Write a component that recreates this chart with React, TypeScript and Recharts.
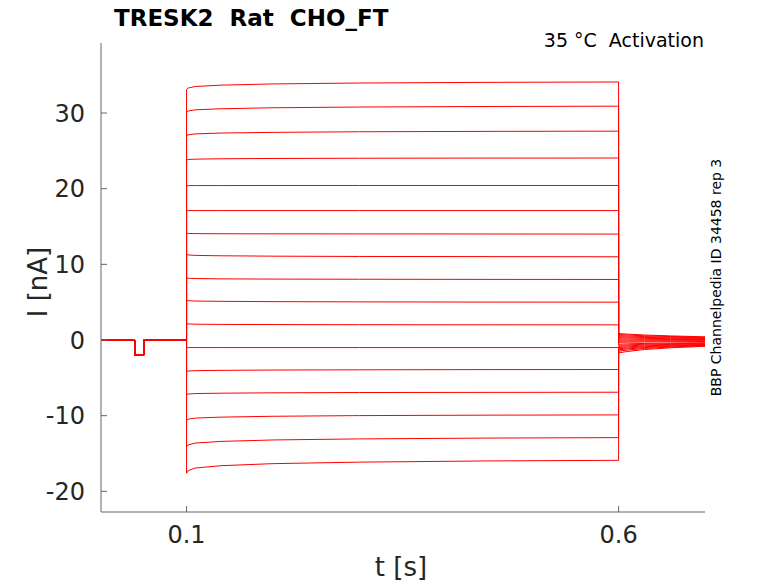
import { Line, LineChart, XAxis, YAxis } from "recharts";

// holding potential segment (incl. the short test pulse), shared by all sweeps
const holdTimes = [0.001, 0.0401, 0.0401, 0.0505, 0.0505, 0.1];
const holdCurrents = [0, 0, -2.0, -2.0, 0, 0];

// activation step: 0.1 s -> 0.6 s
const stepTimes = [0.1, 0.102, 0.11, 0.14, 0.2, 0.3, 0.45, 0.6];
const stepCurrents = [
  [33.1, 33.3, 33.5, 33.68, 33.84, 33.96, 34.05, 34.1],
  [30.1, 30.26, 30.42, 30.56, 30.69, 30.79, 30.86, 30.9],
  [27.0, 27.12, 27.24, 27.35, 27.44, 27.52, 27.57, 27.6],
  [23.8, 23.85, 23.9, 23.95, 23.99, 24.02, 24.04, 24.05],
  [20.4, 20.4, 20.41, 20.41, 20.42, 20.42, 20.42, 20.42],
  [17.1, 17.1, 17.1, 17.1, 17.1, 17.1, 17.1, 17.1],
  [14.1, 14.08, 14.06, 14.04, 14.03, 14.02, 14.01, 14.0],
  [11.3, 11.24, 11.18, 11.13, 11.08, 11.04, 11.02, 11.0],
  [8.2, 8.16, 8.12, 8.08, 8.05, 8.03, 8.01, 8.0],
  [5.25, 5.2, 5.15, 5.11, 5.07, 5.04, 5.01, 5.0],
  [2.15, 2.12, 2.09, 2.06, 2.04, 2.02, 2.01, 2.0],
  [-1.0, -1.0, -1.0, -1.0, -1.0, -1.0, -1.0, -1.0],
  [-4.15, -4.1, -4.05, -4.01, -3.97, -3.94, -3.91, -3.9],
  [-7.2, -7.14, -7.08, -7.03, -6.98, -6.94, -6.92, -6.9],
  [-10.6, -10.46, -10.32, -10.19, -10.08, -9.99, -9.93, -9.9],
  [-14.1, -13.86, -13.62, -13.4, -13.21, -13.07, -12.96, -12.9],
  [-17.6, -17.26, -16.92, -16.61, -16.34, -16.14, -15.98, -15.9],
];

// tail currents after stepping back at 0.6 s
const tailTimes = [0.6, 0.61, 0.63, 0.66, 0.7];
const tailCurrents = [
  [0.85, 0.78, 0.66, 0.54, 0.42],
  [0.72, 0.66, 0.56, 0.46, 0.35],
  [0.58, 0.53, 0.45, 0.37, 0.28],
  [0.44, 0.4, 0.34, 0.27, 0.2],
  [0.3, 0.27, 0.22, 0.18, 0.13],
  [0.15, 0.13, 0.1, 0.08, 0.05],
  [0.0, -0.01, -0.02, -0.03, -0.04],
  [-0.15, -0.15, -0.14, -0.13, -0.12],
  [-0.3, -0.29, -0.26, -0.23, -0.2],
  [-0.55, -0.51, -0.45, -0.4, -0.36],
  [-0.7, -0.65, -0.56, -0.49, -0.43],
  [-0.85, -0.78, -0.67, -0.58, -0.51],
  [-1.0, -0.92, -0.78, -0.67, -0.58],
  [-1.15, -1.05, -0.89, -0.76, -0.65],
  [-1.3, -1.18, -1.0, -0.84, -0.71],
  [-1.48, -1.33, -1.12, -0.93, -0.77],
  [-1.7, -1.52, -1.26, -1.03, -0.83],
];

const xTicks = [0.1, 0.6];
const yTicks = [-20, -10, 0, 10, 20, 30];

const traces = stepCurrents.map((step, i) => [
  ...holdTimes.map((t, j) => ({ t, I: holdCurrents[j] })),
  ...stepTimes.map((t, j) => ({ t, I: step[j] })),
  ...tailTimes.map((t, j) => ({ t, I: tailCurrents[i][j] })),
]);

const FONT = "DejaVu Sans, sans-serif";
const AXIS = "#666";
const INK = "#262626";

function YTick({ x, y, payload }: any) {
  return (
    <g>
      <line x1={x} y1={y} x2={x + 6} y2={y} stroke={AXIS} />
      <text x={x - 16} y={y} dy="0.36em" textAnchor="end" fontSize={24} fontFamily={FONT} fill={INK}>
        {String(payload.value)}
      </text>
    </g>
  );
}

function XTick({ x, y, payload }: any) {
  return (
    <g>
      <line x1={x} y1={y} x2={x} y2={y - 6} stroke={AXIS} />
      <text x={x} y={y + 31} textAnchor="middle" fontSize={24} fontFamily={FONT} fill={INK}>
        {String(payload.value)}
      </text>
    </g>
  );
}

export default function App() {
  return (
    <div style={{ position: "absolute", left: 0, top: 0, width: 778, height: 583, background: "#fff" }}>
      <LineChart width={778} height={583} margin={{ top: 43, right: 73, bottom: 0, left: 0 }}>
        <XAxis
          type="number"
          dataKey="t"
          domain={[0.001, 0.7]}
          allowDataOverflow
          ticks={xTicks}
          height={71}
          tickSize={0}
          tickMargin={0}
          tickLine={false}
          axisLine={{ stroke: AXIS }}
          tick={<XTick />}
        />
        <YAxis
          type="number"
          domain={[-22.73, 39.25]}
          allowDataOverflow
          ticks={yTicks}
          width={101}
          tickSize={0}
          tickMargin={0}
          tickLine={false}
          axisLine={{ stroke: AXIS }}
          tick={<YTick />}
        />
        {traces.map((d, i) => (
          <Line
            key={i}
            data={d}
            dataKey="I"
            type="linear"
            stroke="#ff0000"
            strokeWidth={1}
            dot={false}
            activeDot={false}
            isAnimationActive={false}
          />
        ))}
      </LineChart>
      <svg
        width={778}
        height={583}
        style={{ position: "absolute", left: 0, top: 0, pointerEvents: "none" }}
      >
        <text x={114} y={26} fontSize={23} fontWeight="bold" fontFamily={FONT} fill="#000" style={{ whiteSpace: "pre" }}>
          {"TRESK2  Rat  CHO_FT"}
        </text>
        <text x={704} y={47} fontSize={19} textAnchor="end" fontFamily={FONT} fill="#000" style={{ whiteSpace: "pre" }}>
          {"35 °C  Activation"}
        </text>
        <text
          transform="translate(721 277.5) rotate(-90)"
          fontSize={14}
          textAnchor="middle"
          fontFamily={FONT}
          fill="#000"
        >
          BBP Channelpedia ID 34458 rep 3
        </text>
        <text x={401} y={576} fontSize={26} textAnchor="middle" fontFamily={FONT} fill={INK}>
          t [s]
        </text>
        <text
          transform="translate(46.5 282) rotate(-90)"
          fontSize={26}
          textAnchor="middle"
          fontFamily={FONT}
          fill={INK}
        >
          I [nA]
        </text>
      </svg>
    </div>
  );
}
